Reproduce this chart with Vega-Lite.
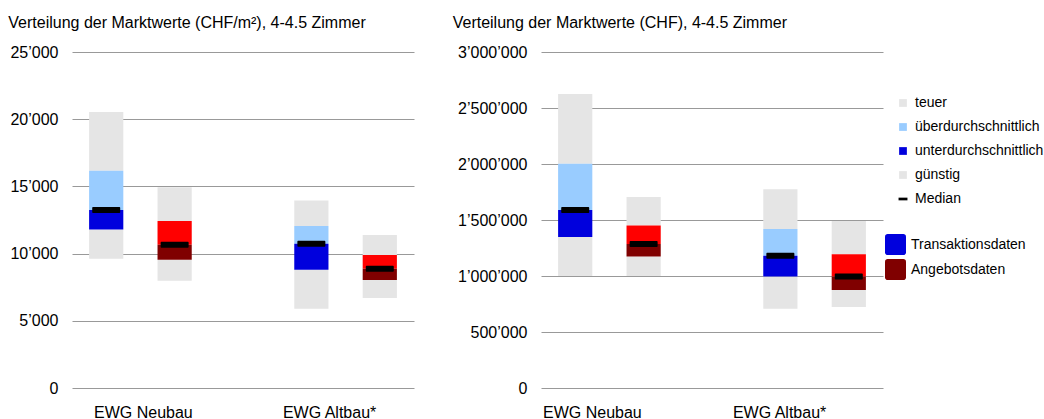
{
  "$schema": "https://vega.github.io/schema/vega-lite/v6.json",
  "padding": {"left": 0, "top": 15, "right": 0, "bottom": 0},
  "spacing": 20,
  "config": {
    "font": "Liberation Sans",
    "view": {"stroke": null},
    "locale": {"number": {"decimal": ".", "thousands": "’", "grouping": [3], "currency": ["", ""]}},
    "axis": {"labelColor": "#000000", "labelFontSize": 16, "labelFont": "Liberation Sans"},
    "legend": {"labelColor": "#000000", "labelFont": "Liberation Sans", "labelFontSize": 14, "padding": 0}
  },
  "datasets": {
    "m2": [
      {"gruppe": "EWG Neubau", "quelle": "Transaktionsdaten", "min": 9620, "q1": 11800, "median": 13250, "q3": 16170, "max": 20540},
      {"gruppe": "EWG Neubau", "quelle": "Angebotsdaten", "min": 7980, "q1": 9550, "median": 10660, "q3": 12430, "max": 14930},
      {"gruppe": "EWG Altbau*", "quelle": "Transaktionsdaten", "min": 5900, "q1": 8800, "median": 10730, "q3": 12050, "max": 13960},
      {"gruppe": "EWG Altbau*", "quelle": "Angebotsdaten", "min": 6700, "q1": 8040, "median": 8880, "q3": 9900, "max": 11380}
    ],
    "chf": [
      {"gruppe": "EWG Neubau", "quelle": "Transaktionsdaten", "min": 1000000, "q1": 1348000, "median": 1590000, "q3": 2003000, "max": 2625000},
      {"gruppe": "EWG Neubau", "quelle": "Angebotsdaten", "min": 1000000, "q1": 1173000, "median": 1286000, "q3": 1452000, "max": 1705000},
      {"gruppe": "EWG Altbau*", "quelle": "Transaktionsdaten", "min": 708000, "q1": 995000, "median": 1181000, "q3": 1420000, "max": 1774000},
      {"gruppe": "EWG Altbau*", "quelle": "Angebotsdaten", "min": 723000, "q1": 875000, "median": 995000, "q3": 1194000, "max": 1491000}
    ]
  },
  "hconcat": [
    {
      "width": 342,
      "height": 336,
      "data": {"name": "m2"},
      "title": {"text": "Verteilung der Marktwerte (CHF/m²), 4-4.5 Zimmer", "anchor": "start", "frame": "group", "dx": -63.7, "offset": 13, "fontSize": 16, "fontWeight": "normal", "color": "#000000", "font": "Liberation Sans"},
      "encoding": {
        "x": {"field": "gruppe", "type": "nominal", "sort": ["EWG Neubau", "EWG Altbau*"], "scale": {"paddingInner": 0.333, "paddingOuter": 0}, "axis": {"title": null, "labelAngle": 0, "labelPadding": 16, "ticks": false, "domain": false, "grid": false, "labelOffset": {"condition": {"test": "datum.value === 'EWG Neubau'", "value": 3}, "value": -16}}},
        "xOffset": {"field": "quelle", "type": "nominal", "sort": ["Transaktionsdaten", "Angebotsdaten"], "scale": {"paddingInner": 0.5, "paddingOuter": 0.25}}
      },
      "layer": [
        {
          "mark": {"type": "bar"},
          "encoding": {
            "y": {"field": "q3", "type": "quantitative", "title": null, "scale": {"domain": [0, 25000], "nice": false}, "axis": {"values": [0, 5000, 10000, 15000, 20000, 25000], "format": ",d", "labelPadding": 14, "ticks": false, "domain": false, "gridColor": "#999999", "gridWidth": 1, "minExtent": 72}},
            "y2": {"field": "max"},
            "color": {"datum": "teuer", "type": "nominal", "scale": {"domain": ["teuer", "überdurchschnittlich", "unterdurchschnittlich", "günstig", "Median"], "range": ["#E5E5E5", "#99CCFF", "#0000DD", "#E5E5E5", "#000000"]}, "legend": {"title": null, "orient": "none", "legendX": 824, "legendY": 44, "symbolType": "square", "symbolSize": 60, "symbolStrokeWidth": 0, "labelOffset": 5, "rowPadding": 10, "encode": {"symbols": {"update": {"shape": {"signal": "datum.value === 'Median' ? 'M-1.15,-0.35H1.15V0.35H-1.15Z' : 'square'"}}}}}}
          }
        },
        {
          "mark": {"type": "bar"},
          "encoding": {"y": {"field": "min", "type": "quantitative", "title": null}, "y2": {"field": "q1"}, "color": {"datum": "günstig", "type": "nominal"}}
        },
        {
          "transform": [{"filter": "datum.quelle === 'Transaktionsdaten'"}],
          "mark": {"type": "bar"},
          "encoding": {"y": {"field": "median", "type": "quantitative", "title": null}, "y2": {"field": "q3"}, "color": {"datum": "überdurchschnittlich", "type": "nominal"}}
        },
        {
          "transform": [{"filter": "datum.quelle === 'Angebotsdaten'"}],
          "mark": {"type": "bar", "color": "#FF0000"},
          "encoding": {"y": {"field": "median", "type": "quantitative", "title": null}, "y2": {"field": "q3"}}
        },
        {
          "mark": {"type": "bar"},
          "encoding": {
            "y": {"field": "q1", "type": "quantitative", "title": null},
            "y2": {"field": "median"},
            "fill": {"field": "quelle", "type": "nominal", "scale": {"domain": ["Transaktionsdaten", "Angebotsdaten"], "range": ["#0000DD", "#800000"]}, "legend": {"title": null, "orient": "none", "legendX": 813, "legendY": 182, "symbolType": "M-0.75,-1H0.75A0.25,0.25 0 0 1 1,-0.75V0.75A0.25,0.25 0 0 1 0.75,1H-0.75A0.25,0.25 0 0 1 -1,0.75V-0.75A0.25,0.25 0 0 1 -0.75,-1Z", "symbolSize": 441, "symbolStrokeWidth": 0, "labelOffset": 5, "rowPadding": 4}}
          }
        },
        {
          "mark": {"type": "tick", "size": 28, "thickness": 6, "cornerRadius": 1, "opacity": 1},
          "encoding": {"y": {"field": "median", "type": "quantitative", "title": null}, "color": {"datum": "Median", "type": "nominal"}}
        }
      ]
    },
    {
      "width": 342,
      "height": 336,
      "data": {"name": "chf"},
      "title": {"text": "Verteilung der Marktwerte (CHF), 4-4.5 Zimmer", "anchor": "start", "frame": "group", "dx": -88.3, "offset": 13, "fontSize": 16, "fontWeight": "normal", "color": "#000000", "font": "Liberation Sans"},
      "encoding": {
        "x": {"field": "gruppe", "type": "nominal", "sort": ["EWG Neubau", "EWG Altbau*"], "scale": {"paddingInner": 0.333, "paddingOuter": 0}, "axis": {"title": null, "labelAngle": 0, "labelPadding": 16, "ticks": false, "domain": false, "grid": false, "labelOffset": {"condition": {"test": "datum.value === 'EWG Neubau'", "value": -17}, "value": -35}}},
        "xOffset": {"field": "quelle", "type": "nominal", "sort": ["Transaktionsdaten", "Angebotsdaten"], "scale": {"paddingInner": 0.5, "paddingOuter": 0.25}}
      },
      "layer": [
        {
          "mark": {"type": "bar"},
          "encoding": {
            "y": {"field": "q3", "type": "quantitative", "title": null, "scale": {"domain": [0, 3000000], "nice": false}, "axis": {"values": [0, 500000, 1000000, 1500000, 2000000, 2500000, 3000000], "format": ",d", "labelPadding": 14, "ticks": false, "domain": false, "gridColor": "#999999", "gridWidth": 1, "minExtent": 107}},
            "y2": {"field": "max"},
            "color": {"datum": "teuer", "type": "nominal", "scale": {"domain": ["teuer", "überdurchschnittlich", "unterdurchschnittlich", "günstig", "Median"], "range": ["#E5E5E5", "#99CCFF", "#0000DD", "#E5E5E5", "#000000"]}, "legend": {"title": null, "orient": "none", "legendX": 824, "legendY": 44, "symbolType": "square", "symbolSize": 60, "symbolStrokeWidth": 0, "labelOffset": 5, "rowPadding": 10, "encode": {"symbols": {"update": {"shape": {"signal": "datum.value === 'Median' ? 'M-1.15,-0.35H1.15V0.35H-1.15Z' : 'square'"}}}}}}
          }
        },
        {
          "mark": {"type": "bar"},
          "encoding": {"y": {"field": "min", "type": "quantitative", "title": null}, "y2": {"field": "q1"}, "color": {"datum": "günstig", "type": "nominal"}}
        },
        {
          "transform": [{"filter": "datum.quelle === 'Transaktionsdaten'"}],
          "mark": {"type": "bar"},
          "encoding": {"y": {"field": "median", "type": "quantitative", "title": null}, "y2": {"field": "q3"}, "color": {"datum": "überdurchschnittlich", "type": "nominal"}}
        },
        {
          "transform": [{"filter": "datum.quelle === 'Angebotsdaten'"}],
          "mark": {"type": "bar", "color": "#FF0000"},
          "encoding": {"y": {"field": "median", "type": "quantitative", "title": null}, "y2": {"field": "q3"}}
        },
        {
          "mark": {"type": "bar"},
          "encoding": {
            "y": {"field": "q1", "type": "quantitative", "title": null},
            "y2": {"field": "median"},
            "fill": {"field": "quelle", "type": "nominal", "scale": {"domain": ["Transaktionsdaten", "Angebotsdaten"], "range": ["#0000DD", "#800000"]}, "legend": {"title": null, "orient": "none", "legendX": 813, "legendY": 182, "symbolType": "M-0.75,-1H0.75A0.25,0.25 0 0 1 1,-0.75V0.75A0.25,0.25 0 0 1 0.75,1H-0.75A0.25,0.25 0 0 1 -1,0.75V-0.75A0.25,0.25 0 0 1 -0.75,-1Z", "symbolSize": 441, "symbolStrokeWidth": 0, "labelOffset": 5, "rowPadding": 4}}
          }
        },
        {
          "mark": {"type": "tick", "size": 28, "thickness": 6, "cornerRadius": 1, "opacity": 1},
          "encoding": {"y": {"field": "median", "type": "quantitative", "title": null}, "color": {"datum": "Median", "type": "nominal"}}
        }
      ]
    }
  ]
}
